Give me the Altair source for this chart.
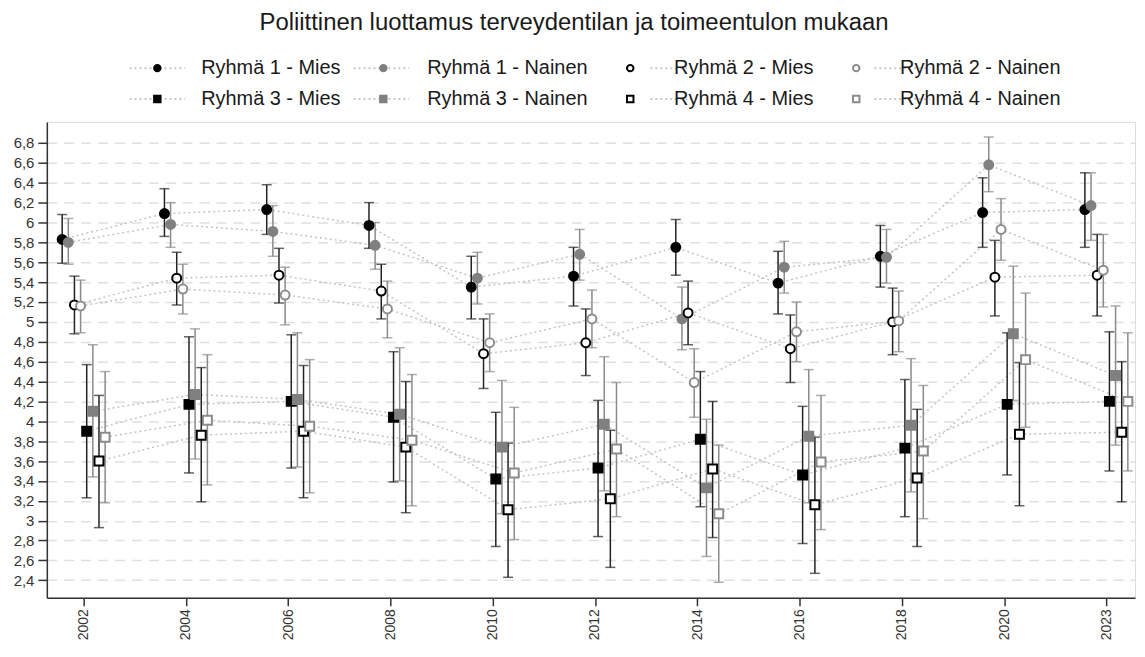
import altair as alt
import pandas as pd

# ---- data ----
years = ["2002", "2004", "2006", "2008", "2010", "2012", "2014", "2016", "2018", "2020", "2023"]
series_names = ["Ryhmä 1 - Mies", "Ryhmä 1 - Nainen", "Ryhmä 2 - Mies", "Ryhmä 2 - Nainen",
                "Ryhmä 3 - Mies", "Ryhmä 3 - Nainen", "Ryhmä 4 - Mies", "Ryhmä 4 - Nainen"]

r1m_mean = [5.83, 6.09, 6.13, 5.97, 5.35, 5.46, 5.75, 5.39, 5.66, 6.10, 6.13]
r1m_lo = [5.59, 5.86, 5.88, 5.74, 5.03, 5.16, 5.47, 5.08, 5.35, 5.75, 5.75]
r1m_hi = [6.08, 6.34, 6.38, 6.20, 5.66, 5.75, 6.03, 5.71, 5.97, 6.45, 6.50]

r1n_mean = [5.80, 5.98, 5.91, 5.77, 5.44, 5.68, 5.03, 5.55, 5.65, 6.58, 6.17]
r1n_lo = [5.58, 5.75, 5.66, 5.53, 5.18, 5.42, 4.72, 5.29, 5.39, 6.31, 5.82]
r1n_hi = [6.04, 6.20, 6.17, 6.00, 5.70, 5.93, 5.35, 5.81, 5.93, 6.86, 6.50]

r2m_mean = [5.17, 5.44, 5.47, 5.31, 4.68, 4.79, 5.09, 4.73, 5.00, 5.45, 5.47]
r2m_lo = [4.88, 5.17, 5.19, 5.03, 4.33, 4.46, 4.77, 4.39, 4.67, 5.06, 5.06]
r2m_hi = [5.46, 5.70, 5.74, 5.58, 5.03, 5.13, 5.41, 5.07, 5.34, 5.82, 5.88]

r2n_mean = [5.16, 5.33, 5.27, 5.13, 4.79, 5.03, 4.39, 4.90, 5.01, 5.93, 5.52]
r2n_lo = [4.89, 5.08, 4.97, 4.84, 4.50, 4.74, 4.04, 4.60, 4.70, 5.62, 5.15]
r2n_hi = [5.42, 5.58, 5.55, 5.41, 5.08, 5.32, 4.73, 5.20, 5.31, 6.24, 5.88]

r3m_mean = [3.90, 4.17, 4.20, 4.04, 3.42, 3.53, 3.82, 3.46, 3.73, 4.17, 4.20]
r3m_lo = [3.23, 3.48, 3.53, 3.39, 2.74, 2.84, 3.14, 2.77, 3.04, 3.46, 3.50]
r3m_hi = [4.57, 4.85, 4.87, 4.70, 4.09, 4.21, 4.50, 4.15, 4.42, 4.89, 4.90]

r3n_mean = [4.10, 4.27, 4.22, 4.07, 3.74, 3.97, 3.33, 3.85, 3.96, 4.88, 4.46]
r3n_lo = [3.44, 3.62, 3.54, 3.40, 3.07, 3.30, 2.64, 3.18, 3.29, 4.21, 3.76]
r3n_hi = [4.77, 4.93, 4.89, 4.74, 4.41, 4.65, 4.02, 4.52, 4.63, 5.56, 5.16]

r4m_mean = [3.60, 3.86, 3.90, 3.74, 3.11, 3.22, 3.52, 3.16, 3.43, 3.87, 3.89]
r4m_lo = [2.93, 3.19, 3.23, 3.08, 2.43, 2.53, 2.83, 2.47, 2.74, 3.15, 3.19]
r4m_hi = [4.26, 4.54, 4.56, 4.40, 3.78, 3.91, 4.20, 3.84, 4.12, 4.59, 4.60]

r4n_mean = [3.84, 4.01, 3.95, 3.81, 3.48, 3.72, 3.07, 3.59, 3.70, 4.62, 4.20]
r4n_lo = [3.18, 3.36, 3.28, 3.15, 2.81, 3.04, 2.38, 2.91, 3.02, 3.94, 3.50]
r4n_hi = [4.50, 4.67, 4.62, 4.47, 4.14, 4.39, 3.76, 4.26, 4.36, 5.29, 4.89]

y_ticks = [2.4, 2.6, 2.8, 3.0, 3.2, 3.4, 3.6, 3.8, 4.0, 4.2, 4.4, 4.6, 4.8, 5.0,
           5.2, 5.4, 5.6, 5.8, 6.0, 6.2, 6.4, 6.6, 6.8]

# ---- styles ----
fills = ["#000000", "#808080", "#ffffff", "#ffffff", "#000000", "#808080", "#ffffff", "#ffffff"]
strokes = ["#000000", "#808080", "#000000", "#8c8c8c", "#000000", "#808080", "#000000", "#8c8c8c"]
shapes = ["circle", "circle", "circle", "circle", "square", "square", "square", "square"]
sizes = [81, 81, 56, 56, 81, 81, 53, 53]
bar_colors = ["#222222", "#8a8a8a", "#222222", "#8a8a8a", "#222222", "#8a8a8a", "#222222", "#8a8a8a"]

all_series = [
    (r1m_mean, r1m_lo, r1m_hi), (r1n_mean, r1n_lo, r1n_hi),
    (r2m_mean, r2m_lo, r2m_hi), (r2n_mean, r2n_lo, r2n_hi),
    (r3m_mean, r3m_lo, r3m_hi), (r3n_mean, r3n_lo, r3n_hi),
    (r4m_mean, r4m_lo, r4m_hi), (r4n_mean, r4n_lo, r4n_hi),
]

rows = []
for si, (m, lo, hi) in enumerate(all_series):
    for wi, yr in enumerate(years):
        rows.append({"wave": wi, "year": yr, "series": series_names[si], "sidx": si,
                     "lkey": "L%d" % si, "mean": m[wi], "lo": lo[wi], "hi": hi[wi]})
df = pd.DataFrame(rows)

FONT = "Liberation Sans"
x_label_expr = "[" + ",".join("'%s'" % y for y in years) + "][datum.value]"
idx_domain = list(range(len(series_names)))

xscale = alt.Scale(domain=[-0.36, 10.28], nice=False, zero=False)
yscale = alt.Scale(domain=[2.224, 7.012], nice=False, zero=False)

base = alt.Chart(df).transform_calculate(
    xpos="datum.wave + (datum.sidx - 3.5) * 0.06"
)

x_enc = alt.X("xpos:Q", scale=xscale,
              axis=alt.Axis(values=list(range(len(years))), labelExpr=x_label_expr,
                            tickCount=30,
                            labelAngle=270, grid=False, title=None, tickSize=8,
                            labelFontSize=14, labelPadding=3, domainWidth=1.5,
                            tickWidth=1.5, domainColor="#333333", tickColor="#333333",
                            labelColor="#333333", labelFont=FONT, labelOverlap=False))

y_axis = alt.Axis(values=y_ticks, tickCount=40,
                  labelExpr="replace(format(datum.value, '~g'), '.', ',')",
                  title=None, tickSize=9, labelFontSize=15, labelPadding=4,
                  labelOverlap=False,
                  grid=True, gridDash=[10, 7], gridColor="#e0e0e0", gridWidth=1.5,
                  domainWidth=1.5, tickWidth=1.5, domainColor="#333333", tickColor="#333333",
                  labelColor="#333333", labelFont=FONT)

LEG_X = 101
LEG_Y = -64
common_leg = dict(orient="none", legendY=LEG_Y, direction="horizontal", title=None,
                  symbolSize=42, labelFontSize=20, labelFont=FONT, rowPadding=11, padding=0)


def dotted_legend(leg_x):
    # dotted line segments drawn behind the legend markers (no text)
    return alt.Legend(legendX=leg_x, columns=2, columnPadding=459, labelOffset=0,
                      labelExpr="''", symbolType="M-8.6,0H8.6", symbolStrokeWidth=2,
                      symbolStrokeColor="#c8c8c8", zindex=1, **common_leg)


def line_layer(parity, leg_x, axis=None):
    keys = ["L%d" % i for i in idx_domain if i % 2 == parity]
    y_enc = alt.Y("mean:Q", scale=yscale, axis=axis) if axis is not None else alt.Y("mean:Q", scale=yscale)
    return base.transform_filter("datum.sidx %% 2 == %d" % parity).mark_line(
        stroke="#c4c4c4", strokeWidth=1.5
    ).encode(
        x=x_enc if axis is not None else alt.X("xpos:Q", scale=xscale),
        y=y_enc,
        strokeDash=alt.StrokeDash("lkey:N",
                                  scale=alt.Scale(domain=keys, range=[[2, 3]] * len(keys)),
                                  legend=dotted_legend(leg_x)),
        order="wave:Q",
    )


lines_m = line_layer(0, LEG_X, axis=y_axis)
lines_n = line_layer(1, LEG_X + 225)

bar_color = alt.Color("sidx:O", scale=alt.Scale(domain=idx_domain, range=bar_colors), legend=None)

bars = base.mark_rule(strokeWidth=1.5).encode(
    x=alt.X("xpos:Q", scale=xscale),
    y=alt.Y("lo:Q", scale=yscale),
    y2="hi:Q",
    color=bar_color,
)
caps_lo = base.mark_tick(orient="horizontal", size=10, thickness=1.5).encode(
    x=alt.X("xpos:Q", scale=xscale),
    y=alt.Y("lo:Q", scale=yscale),
    color=bar_color,
)
caps_hi = base.mark_tick(orient="horizontal", size=10, thickness=1.5).encode(
    x=alt.X("xpos:Q", scale=xscale),
    y=alt.Y("hi:Q", scale=yscale),
    color=bar_color,
)

legend_pts = alt.Legend(legendX=LEG_X, columns=4, columnPadding=32, labelOffset=34,
                        labelLimit=400, symbolStrokeWidth=2, labelColor="#1a1a1a",
                        zindex=2, **common_leg)

points = base.mark_point(filled=False, strokeWidth=2, opacity=1).encode(
    x=alt.X("xpos:Q", scale=xscale),
    y=alt.Y("mean:Q", scale=yscale),
    shape=alt.Shape("series:N", scale=alt.Scale(domain=series_names, range=shapes), legend=legend_pts),
    fill=alt.Fill("series:N", scale=alt.Scale(domain=series_names, range=fills), legend=legend_pts),
    stroke=alt.Stroke("series:N", scale=alt.Scale(domain=series_names, range=strokes), legend=legend_pts),
    size=alt.Size("sidx:O", scale=alt.Scale(domain=idx_domain, range=sizes), legend=None),
)

chart = alt.layer(lines_m, lines_n, bars, caps_lo, caps_hi, points).resolve_scale(
    strokeDash="independent"
).resolve_legend(
    strokeDash="independent"
).properties(
    width=1093,
    height=478,
    title=alt.TitleParams("Poliittinen luottamus terveydentilan ja toimeentulon mukaan",
                          fontSize=24, font=FONT, fontWeight="normal", color="#1a1a1a",
                          anchor="middle", offset=23, dx=-17),
    padding={"left": 5, "top": 2, "right": 0, "bottom": 0},
).configure_view(stroke=None).configure(font=FONT)

chart.save("out.html", embed_options={"renderer": "svg", "actions": False})
